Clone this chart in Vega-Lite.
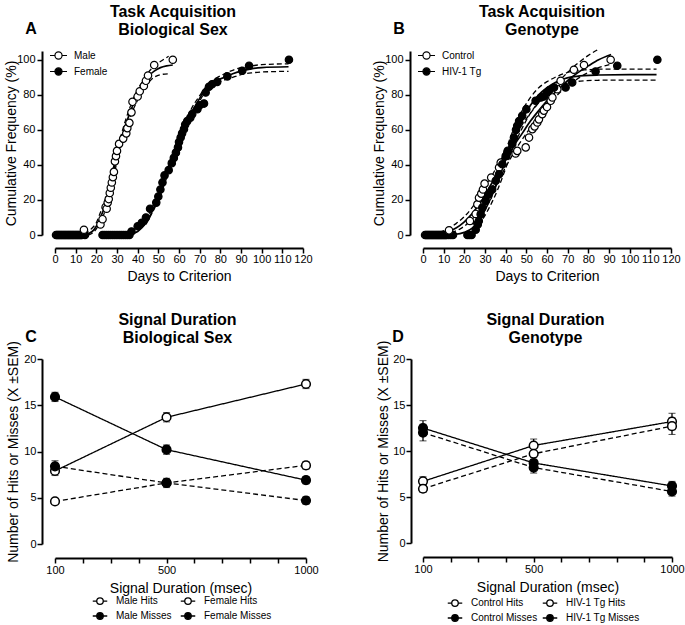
{
  "$schema": "https://vega.github.io/schema/vega-lite/v6.json",
  "background": "white",
  "padding": {"left": 4, "top": 3, "right": 0, "bottom": 0},
  "columns": 2,
  "spacing": {"row": 124, "column": 117},
  "bounds": "flush",
  "resolve": {"scale": {"fill": "independent", "strokeDash": "independent"}, "legend": {"fill": "independent", "strokeDash": "independent"}},
  "config": {
    "font": "Liberation Sans",
    "view": {"stroke": null},
    "axis": {"grid": false, "domainColor": "black", "domainWidth": 2, "tickColor": "black", "tickWidth": 1.5, "tickSize": 5, "labelFont": "Liberation Sans", "labelFontSize": 11, "labelColor": "black", "titleFont": "Liberation Sans", "titleFontSize": 14, "titleFontWeight": "normal", "titleColor": "black", "labelFlush": false, "labelOverlap": false, "labelBound": false},
    "title": {"font": "Liberation Sans", "fontSize": 16, "fontWeight": "bold", "color": "black", "anchor": "middle", "frame": "group", "lineHeight": 18},
    "legend": {"labelFont": "Liberation Sans", "labelFontSize": 10, "labelColor": "black"}
  },
  "datasets": {
    "a_pts": [
      {"day":0.5,"freq":0,"sex":"Male"},{"day":1.5,"freq":0,"sex":"Male"},{"day":2.5,"freq":0,"sex":"Male"},{"day":3.5,"freq":0,"sex":"Male"},{"day":4.5,"freq":0,"sex":"Male"},{"day":5.5,"freq":0,"sex":"Male"},{"day":6.5,"freq":0,"sex":"Male"},{"day":7.5,"freq":0,"sex":"Male"},{"day":8.5,"freq":0,"sex":"Male"},{"day":9.5,"freq":0,"sex":"Male"},{"day":10.5,"freq":0,"sex":"Male"},{"day":11.5,"freq":0,"sex":"Male"},{"day":12.5,"freq":0,"sex":"Male"},
      {"day":1,"freq":0,"sex":"Female"},{"day":2,"freq":0,"sex":"Female"},{"day":3,"freq":0,"sex":"Female"},{"day":4,"freq":0,"sex":"Female"},{"day":5,"freq":0,"sex":"Female"},{"day":6,"freq":0,"sex":"Female"},{"day":7,"freq":0,"sex":"Female"},{"day":8,"freq":0,"sex":"Female"},{"day":9,"freq":0,"sex":"Female"},{"day":10,"freq":0,"sex":"Female"},{"day":11,"freq":0,"sex":"Female"},{"day":12,"freq":0,"sex":"Female"},{"day":13,"freq":0,"sex":"Female"},{"day":14.5,"freq":0,"sex":"Female"},
      {"day":14,"freq":3,"sex":"Male"},{"day":22,"freq":6,"sex":"Male"},{"day":23,"freq":9,"sex":"Male"},{"day":24.5,"freq":16,"sex":"Male"},{"day":25,"freq":15,"sex":"Male"},{"day":25.5,"freq":18.5,"sex":"Male"},{"day":26,"freq":20.5,"sex":"Male"},{"day":26.5,"freq":24,"sex":"Male"},{"day":27,"freq":27,"sex":"Male"},{"day":27.5,"freq":30,"sex":"Male"},{"day":28,"freq":33,"sex":"Male"},{"day":28.5,"freq":36,"sex":"Male"},{"day":29,"freq":42,"sex":"Male"},{"day":29.5,"freq":45,"sex":"Male"},{"day":30,"freq":48,"sex":"Male"},{"day":31,"freq":52,"sex":"Male"},{"day":33,"freq":55,"sex":"Male"},{"day":34.5,"freq":58,"sex":"Male"},{"day":35,"freq":61,"sex":"Male"},{"day":36,"freq":64,"sex":"Male"},{"day":37,"freq":70,"sex":"Male"},{"day":37.5,"freq":76,"sex":"Male"},{"day":40,"freq":79,"sex":"Male"},{"day":41,"freq":82,"sex":"Male"},{"day":43,"freq":85,"sex":"Male"},{"day":44,"freq":88,"sex":"Male"},{"day":45,"freq":91,"sex":"Male"},{"day":48,"freq":97,"sex":"Male"},{"day":57,"freq":100,"sex":"Male"},
      {"day":23,"freq":0,"sex":"Female"},{"day":24,"freq":0,"sex":"Female"},{"day":25,"freq":0,"sex":"Female"},{"day":26,"freq":0,"sex":"Female"},{"day":27,"freq":0,"sex":"Female"},{"day":28,"freq":0,"sex":"Female"},{"day":29,"freq":0,"sex":"Female"},{"day":30,"freq":0,"sex":"Female"},{"day":31,"freq":0,"sex":"Female"},{"day":32,"freq":0,"sex":"Female"},{"day":33,"freq":0,"sex":"Female"},{"day":34,"freq":0,"sex":"Female"},{"day":35,"freq":0,"sex":"Female"},{"day":36,"freq":0,"sex":"Female"},
      {"day":37,"freq":2,"sex":"Female"},{"day":40,"freq":5,"sex":"Female"},{"day":42,"freq":7,"sex":"Female"},{"day":44,"freq":10,"sex":"Female"},{"day":46,"freq":15,"sex":"Female"},{"day":49,"freq":18.5,"sex":"Female"},{"day":50,"freq":22,"sex":"Female"},{"day":51,"freq":26,"sex":"Female"},{"day":52,"freq":30,"sex":"Female"},{"day":53,"freq":34,"sex":"Female"},{"day":55,"freq":37,"sex":"Female"},{"day":56.5,"freq":41,"sex":"Female"},{"day":57.5,"freq":44,"sex":"Female"},{"day":58.5,"freq":47,"sex":"Female"},{"day":59.5,"freq":50,"sex":"Female"},{"day":60,"freq":53,"sex":"Female"},{"day":60.8,"freq":55.6,"sex":"Female"},{"day":61.5,"freq":58,"sex":"Female"},{"day":62.4,"freq":60.4,"sex":"Female"},{"day":63,"freq":63,"sex":"Female"},{"day":64,"freq":65,"sex":"Female"},{"day":65.5,"freq":67,"sex":"Female"},{"day":66.4,"freq":69,"sex":"Female"},{"day":68.9,"freq":71.8,"sex":"Female"},{"day":70,"freq":74,"sex":"Female"},{"day":72.1,"freq":75,"sex":"Female"},{"day":72.9,"freq":81.3,"sex":"Female"},{"day":74.5,"freq":84.6,"sex":"Female"},{"day":76,"freq":86,"sex":"Female"},{"day":78.5,"freq":87.4,"sex":"Female"},{"day":83.4,"freq":90.5,"sex":"Female"},{"day":90.6,"freq":93.7,"sex":"Female"},{"day":93.9,"freq":96.6,"sex":"Female"},{"day":113.2,"freq":100,"sex":"Female"}
    ],
    "a_fit": [
      {"day":15,"freq":0.5,"curve":"Male"},{"day":18,"freq":2,"curve":"Male"},{"day":20,"freq":5,"curve":"Male"},{"day":22,"freq":10,"curve":"Male"},{"day":24,"freq":16,"curve":"Male"},{"day":26,"freq":24,"curve":"Male"},{"day":28,"freq":34,"curve":"Male"},{"day":30,"freq":45,"curve":"Male"},{"day":32,"freq":54,"curve":"Male"},{"day":34,"freq":62,"curve":"Male"},{"day":36,"freq":69,"curve":"Male"},{"day":38,"freq":75,"curve":"Male"},{"day":40,"freq":80,"curve":"Male"},{"day":42,"freq":85,"curve":"Male"},{"day":44,"freq":88.5,"curve":"Male"},{"day":46,"freq":91.5,"curve":"Male"},{"day":48,"freq":93.5,"curve":"Male"},{"day":51,"freq":95.5,"curve":"Male"},{"day":54,"freq":96.5,"curve":"Male"},{"day":57,"freq":97,"curve":"Male"},
      {"day":36,"freq":0.3,"curve":"Female"},{"day":40,"freq":2,"curve":"Female"},{"day":44,"freq":7,"curve":"Female"},{"day":48,"freq":16,"curve":"Female"},{"day":50,"freq":22,"curve":"Female"},{"day":52,"freq":29,"curve":"Female"},{"day":54,"freq":35,"curve":"Female"},{"day":56,"freq":41,"curve":"Female"},{"day":58,"freq":47,"curve":"Female"},{"day":60,"freq":53,"curve":"Female"},{"day":62,"freq":59,"curve":"Female"},{"day":64,"freq":65,"curve":"Female"},{"day":66,"freq":70,"curve":"Female"},{"day":68,"freq":74,"curve":"Female"},{"day":70,"freq":78,"curve":"Female"},{"day":72,"freq":82,"curve":"Female"},{"day":75,"freq":85.5,"curve":"Female"},{"day":78,"freq":88,"curve":"Female"},{"day":82,"freq":90,"curve":"Female"},{"day":86,"freq":92,"curve":"Female"},{"day":90,"freq":93.5,"curve":"Female"},{"day":95,"freq":94.8,"curve":"Female"},{"day":100,"freq":95.5,"curve":"Female"},{"day":113,"freq":96,"curve":"Female"}
    ],
    "a_band": [
      {"day":14,"freq":1,"curve":"Male upper"},{"day":18,"freq":4,"curve":"Male upper"},{"day":20,"freq":7,"curve":"Male upper"},{"day":22,"freq":13,"curve":"Male upper"},{"day":24,"freq":19,"curve":"Male upper"},{"day":26,"freq":27,"curve":"Male upper"},{"day":28,"freq":37,"curve":"Male upper"},{"day":30,"freq":48,"curve":"Male upper"},{"day":32,"freq":57,"curve":"Male upper"},{"day":34,"freq":65,"curve":"Male upper"},{"day":36,"freq":72,"curve":"Male upper"},{"day":38,"freq":78,"curve":"Male upper"},{"day":40,"freq":83,"curve":"Male upper"},{"day":42,"freq":87,"curve":"Male upper"},{"day":44,"freq":91,"curve":"Male upper"},{"day":46,"freq":94,"curve":"Male upper"},{"day":48,"freq":96.5,"curve":"Male upper"},{"day":51,"freq":99,"curve":"Male upper"},{"day":55,"freq":102,"curve":"Male upper"},
      {"day":16,"freq":0,"curve":"Male lower"},{"day":18,"freq":1,"curve":"Male lower"},{"day":20,"freq":3.5,"curve":"Male lower"},{"day":22,"freq":7.5,"curve":"Male lower"},{"day":24,"freq":13,"curve":"Male lower"},{"day":26,"freq":21,"curve":"Male lower"},{"day":28,"freq":31,"curve":"Male lower"},{"day":30,"freq":42,"curve":"Male lower"},{"day":32,"freq":51,"curve":"Male lower"},{"day":34,"freq":59,"curve":"Male lower"},{"day":36,"freq":66,"curve":"Male lower"},{"day":38,"freq":72,"curve":"Male lower"},{"day":40,"freq":77,"curve":"Male lower"},{"day":42,"freq":82,"curve":"Male lower"},{"day":44,"freq":85.5,"curve":"Male lower"},{"day":46,"freq":88,"curve":"Male lower"},{"day":48,"freq":90,"curve":"Male lower"},{"day":51,"freq":91.5,"curve":"Male lower"},{"day":55,"freq":92,"curve":"Male lower"},
      {"day":44,"freq":8,"curve":"Female upper"},{"day":50,"freq":24,"curve":"Female upper"},{"day":56,"freq":43,"curve":"Female upper"},{"day":62,"freq":61,"curve":"Female upper"},{"day":66,"freq":72,"curve":"Female upper"},{"day":70,"freq":79.5,"curve":"Female upper"},{"day":72,"freq":83,"curve":"Female upper"},{"day":75,"freq":87,"curve":"Female upper"},{"day":78,"freq":89.5,"curve":"Female upper"},{"day":82,"freq":92,"curve":"Female upper"},{"day":86,"freq":94,"curve":"Female upper"},{"day":90,"freq":95.5,"curve":"Female upper"},{"day":95,"freq":96.5,"curve":"Female upper"},{"day":100,"freq":97.2,"curve":"Female upper"},{"day":113,"freq":97.7,"curve":"Female upper"},
      {"day":44,"freq":6,"curve":"Female lower"},{"day":50,"freq":20,"curve":"Female lower"},{"day":56,"freq":39,"curve":"Female lower"},{"day":62,"freq":57,"curve":"Female lower"},{"day":66,"freq":68,"curve":"Female lower"},{"day":70,"freq":76.5,"curve":"Female lower"},{"day":72,"freq":80.5,"curve":"Female lower"},{"day":75,"freq":84,"curve":"Female lower"},{"day":78,"freq":86.5,"curve":"Female lower"},{"day":82,"freq":88.5,"curve":"Female lower"},{"day":86,"freq":90,"curve":"Female lower"},{"day":90,"freq":91.5,"curve":"Female lower"},{"day":95,"freq":92.5,"curve":"Female lower"},{"day":100,"freq":93,"curve":"Female lower"},{"day":113,"freq":93.4,"curve":"Female lower"}
    ],
    "b_pts": [
      {"day":1,"freq":0,"geno":"Control"},{"day":2,"freq":0,"geno":"Control"},{"day":3,"freq":0,"geno":"Control"},{"day":4,"freq":0,"geno":"Control"},{"day":5,"freq":0,"geno":"Control"},{"day":6,"freq":0,"geno":"Control"},{"day":7,"freq":0,"geno":"Control"},{"day":8,"freq":0,"geno":"Control"},{"day":9,"freq":0,"geno":"Control"},{"day":10,"freq":0,"geno":"Control"},{"day":11,"freq":0,"geno":"Control"},
      {"day":1.5,"freq":0,"geno":"HIV-1 Tg"},{"day":2.5,"freq":0,"geno":"HIV-1 Tg"},{"day":3.5,"freq":0,"geno":"HIV-1 Tg"},{"day":4.5,"freq":0,"geno":"HIV-1 Tg"},{"day":5.5,"freq":0,"geno":"HIV-1 Tg"},{"day":6.5,"freq":0,"geno":"HIV-1 Tg"},{"day":7.5,"freq":0,"geno":"HIV-1 Tg"},{"day":8.5,"freq":0,"geno":"HIV-1 Tg"},{"day":9.5,"freq":0,"geno":"HIV-1 Tg"},{"day":10.5,"freq":0,"geno":"HIV-1 Tg"},{"day":11.5,"freq":0,"geno":"HIV-1 Tg"},{"day":12.5,"freq":0,"geno":"HIV-1 Tg"},{"day":13.5,"freq":0,"geno":"HIV-1 Tg"},{"day":14.5,"freq":0,"geno":"HIV-1 Tg"},{"day":21.5,"freq":0,"geno":"HIV-1 Tg"},{"day":22.5,"freq":0,"geno":"HIV-1 Tg"},{"day":23.5,"freq":0,"geno":"HIV-1 Tg"},
      {"day":12.6,"freq":2.7,"geno":"Control"},{"day":22.7,"freq":8,"geno":"Control"},{"day":25.5,"freq":12,"geno":"Control"},{"day":26.3,"freq":17.5,"geno":"Control"},{"day":27.1,"freq":21.3,"geno":"Control"},{"day":28.2,"freq":23.6,"geno":"Control"},{"day":29,"freq":26,"geno":"Control"},{"day":29.8,"freq":29.3,"geno":"Control"},{"day":31.5,"freq":22,"geno":"Control"},{"day":33,"freq":32.8,"geno":"Control"},{"day":36.8,"freq":38.5,"geno":"Control"},{"day":37.6,"freq":41.3,"geno":"Control"},{"day":40.8,"freq":47,"geno":"Control"},{"day":44.8,"freq":46.5,"geno":"Control"},{"day":45.6,"freq":48,"geno":"Control"},{"day":49.7,"freq":50,"geno":"Control"},{"day":51.3,"freq":55.6,"geno":"Control"},{"day":52.9,"freq":60.4,"geno":"Control"},{"day":54,"freq":62,"geno":"Control"},{"day":55.3,"freq":64.2,"geno":"Control"},{"day":56.1,"freq":66,"geno":"Control"},{"day":57.7,"freq":69,"geno":"Control"},{"day":58.5,"freq":71,"geno":"Control"},{"day":60,"freq":73,"geno":"Control"},{"day":61.8,"freq":76.6,"geno":"Control"},{"day":62.6,"freq":78.5,"geno":"Control"},{"day":65,"freq":83.2,"geno":"Control"},{"day":66.6,"freq":88,"geno":"Control"},{"day":73,"freq":94.3,"geno":"Control"},{"day":77.9,"freq":97,"geno":"Control"},{"day":90.8,"freq":100,"geno":"Control"},
      {"day":25.5,"freq":3,"geno":"HIV-1 Tg"},{"day":26.5,"freq":6,"geno":"HIV-1 Tg"},{"day":27,"freq":8,"geno":"HIV-1 Tg"},{"day":27.9,"freq":11.8,"geno":"HIV-1 Tg"},{"day":28.7,"freq":15.6,"geno":"HIV-1 Tg"},{"day":30.3,"freq":19.4,"geno":"HIV-1 Tg"},{"day":31.6,"freq":23,"geno":"HIV-1 Tg"},{"day":33.5,"freq":26,"geno":"HIV-1 Tg"},{"day":35.2,"freq":31,"geno":"HIV-1 Tg"},{"day":36.8,"freq":34.7,"geno":"HIV-1 Tg"},{"day":38.4,"freq":40.4,"geno":"HIV-1 Tg"},{"day":40,"freq":45,"geno":"HIV-1 Tg"},{"day":41,"freq":48,"geno":"HIV-1 Tg"},{"day":43.2,"freq":52,"geno":"HIV-1 Tg"},{"day":44,"freq":55.6,"geno":"HIV-1 Tg"},{"day":45,"freq":60,"geno":"HIV-1 Tg"},{"day":45.6,"freq":62.3,"geno":"HIV-1 Tg"},{"day":46.5,"freq":65,"geno":"HIV-1 Tg"},{"day":48,"freq":68,"geno":"HIV-1 Tg"},{"day":50,"freq":71.8,"geno":"HIV-1 Tg"},{"day":54.5,"freq":76.6,"geno":"HIV-1 Tg"},{"day":57,"freq":78.5,"geno":"HIV-1 Tg"},{"day":58.5,"freq":79,"geno":"HIV-1 Tg"},{"day":60,"freq":81.3,"geno":"HIV-1 Tg"},{"day":61,"freq":82.5,"geno":"HIV-1 Tg"},{"day":63.4,"freq":84.2,"geno":"HIV-1 Tg"},{"day":69,"freq":84.2,"geno":"HIV-1 Tg"},{"day":72.2,"freq":87,"geno":"HIV-1 Tg"},{"day":83.5,"freq":93.3,"geno":"HIV-1 Tg"},{"day":94,"freq":96.6,"geno":"HIV-1 Tg"},{"day":113.4,"freq":100,"geno":"HIV-1 Tg"}
    ],
    "b_fit": [
      {"day":8,"freq":0.5,"curve":"Control"},{"day":12,"freq":2,"curve":"Control"},{"day":16,"freq":4,"curve":"Control"},{"day":20,"freq":7.5,"curve":"Control"},{"day":24,"freq":12.5,"curve":"Control"},{"day":28,"freq":19,"curve":"Control"},{"day":32,"freq":27,"curve":"Control"},{"day":36,"freq":35,"curve":"Control"},{"day":40,"freq":43,"curve":"Control"},{"day":44,"freq":51,"curve":"Control"},{"day":48,"freq":58,"curve":"Control"},{"day":52,"freq":65,"curve":"Control"},{"day":56,"freq":71,"curve":"Control"},{"day":60,"freq":76.5,"curve":"Control"},{"day":64,"freq":81.5,"curve":"Control"},{"day":68,"freq":86,"curve":"Control"},{"day":72,"freq":90,"curve":"Control"},{"day":76,"freq":93.5,"curve":"Control"},{"day":80,"freq":96.5,"curve":"Control"},{"day":85,"freq":100,"curve":"Control"},{"day":91,"freq":103,"curve":"Control"},
      {"day":15,"freq":0.3,"curve":"Tg"},{"day":20,"freq":1.5,"curve":"Tg"},{"day":24,"freq":4,"curve":"Tg"},{"day":28,"freq":10,"curve":"Tg"},{"day":32,"freq":19,"curve":"Tg"},{"day":36,"freq":30,"curve":"Tg"},{"day":40,"freq":43,"curve":"Tg"},{"day":44,"freq":56,"curve":"Tg"},{"day":48,"freq":66,"curve":"Tg"},{"day":52,"freq":74,"curve":"Tg"},{"day":56,"freq":80,"curve":"Tg"},{"day":60,"freq":84,"curve":"Tg"},{"day":64,"freq":87,"curve":"Tg"},{"day":68,"freq":89,"curve":"Tg"},{"day":72,"freq":90.2,"curve":"Tg"},{"day":78,"freq":91,"curve":"Tg"},{"day":85,"freq":91.3,"curve":"Tg"},{"day":100,"freq":91.5,"curve":"Tg"},{"day":113,"freq":91.5,"curve":"Tg"}
    ],
    "b_band": [
      {"day":8,"freq":1.5,"curve":"Control upper"},{"day":12,"freq":3.5,"curve":"Control upper"},{"day":16,"freq":6.5,"curve":"Control upper"},{"day":20,"freq":10.5,"curve":"Control upper"},{"day":24,"freq":16,"curve":"Control upper"},{"day":28,"freq":23,"curve":"Control upper"},{"day":32,"freq":31,"curve":"Control upper"},{"day":36,"freq":39.5,"curve":"Control upper"},{"day":40,"freq":47.5,"curve":"Control upper"},{"day":44,"freq":55.5,"curve":"Control upper"},{"day":48,"freq":63,"curve":"Control upper"},{"day":52,"freq":69.5,"curve":"Control upper"},{"day":56,"freq":75.5,"curve":"Control upper"},{"day":60,"freq":81,"curve":"Control upper"},{"day":64,"freq":86,"curve":"Control upper"},{"day":68,"freq":90.5,"curve":"Control upper"},{"day":72,"freq":95,"curve":"Control upper"},{"day":76,"freq":99,"curve":"Control upper"},{"day":80,"freq":102.5,"curve":"Control upper"},{"day":85,"freq":106,"curve":"Control upper"},
      {"day":10,"freq":0,"curve":"Control lower"},{"day":14,"freq":1.5,"curve":"Control lower"},{"day":18,"freq":3.5,"curve":"Control lower"},{"day":22,"freq":7,"curve":"Control lower"},{"day":26,"freq":12,"curve":"Control lower"},{"day":30,"freq":18.5,"curve":"Control lower"},{"day":34,"freq":26,"curve":"Control lower"},{"day":38,"freq":34.5,"curve":"Control lower"},{"day":42,"freq":43,"curve":"Control lower"},{"day":46,"freq":51,"curve":"Control lower"},{"day":50,"freq":58,"curve":"Control lower"},{"day":54,"freq":64.5,"curve":"Control lower"},{"day":58,"freq":70.5,"curve":"Control lower"},{"day":62,"freq":76,"curve":"Control lower"},{"day":66,"freq":81,"curve":"Control lower"},{"day":70,"freq":85,"curve":"Control lower"},{"day":74,"freq":88.5,"curve":"Control lower"},{"day":78,"freq":91.5,"curve":"Control lower"},{"day":84,"freq":95,"curve":"Control lower"},{"day":91,"freq":97.5,"curve":"Control lower"},
      {"day":24,"freq":6,"curve":"Tg upper"},{"day":28,"freq":13,"curve":"Tg upper"},{"day":32,"freq":23,"curve":"Tg upper"},{"day":36,"freq":34.5,"curve":"Tg upper"},{"day":40,"freq":48,"curve":"Tg upper"},{"day":44,"freq":61,"curve":"Tg upper"},{"day":48,"freq":71,"curve":"Tg upper"},{"day":52,"freq":78.5,"curve":"Tg upper"},{"day":56,"freq":84,"curve":"Tg upper"},{"day":60,"freq":87.5,"curve":"Tg upper"},{"day":64,"freq":90,"curve":"Tg upper"},{"day":68,"freq":92,"curve":"Tg upper"},{"day":72,"freq":93.3,"curve":"Tg upper"},{"day":78,"freq":94.2,"curve":"Tg upper"},{"day":85,"freq":94.6,"curve":"Tg upper"},{"day":100,"freq":94.7,"curve":"Tg upper"},{"day":113,"freq":94.7,"curve":"Tg upper"},
      {"day":24,"freq":2.5,"curve":"Tg lower"},{"day":28,"freq":7.5,"curve":"Tg lower"},{"day":32,"freq":15.5,"curve":"Tg lower"},{"day":36,"freq":25.5,"curve":"Tg lower"},{"day":40,"freq":38,"curve":"Tg lower"},{"day":44,"freq":51,"curve":"Tg lower"},{"day":48,"freq":61,"curve":"Tg lower"},{"day":52,"freq":69.5,"curve":"Tg lower"},{"day":56,"freq":76,"curve":"Tg lower"},{"day":60,"freq":80.5,"curve":"Tg lower"},{"day":64,"freq":84,"curve":"Tg lower"},{"day":68,"freq":86,"curve":"Tg lower"},{"day":72,"freq":87.2,"curve":"Tg lower"},{"day":78,"freq":88,"curve":"Tg lower"},{"day":85,"freq":88.3,"curve":"Tg lower"},{"day":100,"freq":88.4,"curve":"Tg lower"},{"day":113,"freq":88.4,"curve":"Tg lower"}
    ],
    "c_data": [
      {"duration":100,"count":7.9,"sem":0.5,"series":"Male Hits","group":"Male"},
      {"duration":500,"count":13.7,"sem":0.5,"series":"Male Hits","group":"Male"},
      {"duration":1000,"count":17.3,"sem":0.5,"series":"Male Hits","group":"Male"},
      {"duration":100,"count":15.9,"sem":0.5,"series":"Male Misses","group":"Male"},
      {"duration":500,"count":10.2,"sem":0.5,"series":"Male Misses","group":"Male"},
      {"duration":1000,"count":6.9,"sem":0.4,"series":"Male Misses","group":"Male"},
      {"duration":100,"count":4.6,"sem":0.2,"series":"Female Hits","group":"Female"},
      {"duration":500,"count":6.6,"sem":0.3,"series":"Female Hits","group":"Female"},
      {"duration":1000,"count":8.5,"sem":0.4,"series":"Female Hits","group":"Female"},
      {"duration":100,"count":8.4,"sem":0.6,"series":"Female Misses","group":"Female"},
      {"duration":500,"count":6.6,"sem":0.5,"series":"Female Misses","group":"Female"},
      {"duration":1000,"count":4.7,"sem":0.4,"series":"Female Misses","group":"Female"}
    ],
    "d_data": [
      {"duration":100,"count":6.7,"sem":0.5,"series":"Control Hits","group":"Control"},
      {"duration":500,"count":10.6,"sem":0.7,"series":"Control Hits","group":"Control"},
      {"duration":1000,"count":13.2,"sem":0.9,"series":"Control Hits","group":"Control"},
      {"duration":100,"count":5.9,"sem":0.4,"series":"HIV-1 Tg Hits","group":"HIV-1 Tg"},
      {"duration":500,"count":9.7,"sem":0.6,"series":"HIV-1 Tg Hits","group":"HIV-1 Tg"},
      {"duration":1000,"count":12.7,"sem":0.9,"series":"HIV-1 Tg Hits","group":"HIV-1 Tg"},
      {"duration":100,"count":12.5,"sem":0.8,"series":"Control Misses","group":"Control"},
      {"duration":500,"count":8.7,"sem":0.6,"series":"Control Misses","group":"Control"},
      {"duration":1000,"count":6.2,"sem":0.5,"series":"Control Misses","group":"Control"},
      {"duration":100,"count":12.0,"sem":0.9,"series":"HIV-1 Tg Misses","group":"HIV-1 Tg"},
      {"duration":500,"count":8.2,"sem":0.6,"series":"HIV-1 Tg Misses","group":"HIV-1 Tg"},
      {"duration":1000,"count":5.6,"sem":0.5,"series":"HIV-1 Tg Misses","group":"HIV-1 Tg"}
    ]
  },
  "concat": [
    {
      "width": 248, "height": 184,
      "title": {"text": ["Task  Acquisition", "Biological Sex"], "dx": -6, "offset": -17},
      "layer": [
        {"data": {"name": "a_band"}, "mark": {"type": "line", "interpolate": "monotone", "strokeDash": [5,3], "strokeWidth": 1.3, "color": "black"},
         "encoding": {
           "x": {"field": "day", "type": "quantitative", "scale": {"domain": [0, 120], "nice": false, "zero": false}, "axis": {"title": "Days to Criterion", "values": [0,10,20,30,40,50,60,70,80,90,100,110,120], "offset": 13, "labelPadding": 0, "titlePadding": 5, "labelOverlap": false, "labelFlush": false, "labelBound": false}},
           "y": {"field": "freq", "type": "quantitative", "scale": {"domain": [0, 105], "nice": false}, "axis": {"title": "Cumulative Frequency (%)", "values": [0,20,40,60,80,100], "offset": 13, "labelPadding": 2, "titlePadding": -2, "labelOverlap": false, "labelFlush": false, "labelBound": false}},
           "detail": {"field": "curve"}}},
        {"data": {"name": "a_fit"}, "mark": {"type": "line", "interpolate": "monotone", "strokeWidth": 1.7, "color": "black"},
         "encoding": {
           "x": {"field": "day", "type": "quantitative", "axis": {"title": "Days to Criterion", "values": [0,10,20,30,40,50,60,70,80,90,100,110,120], "offset": 13, "labelPadding": 0, "titlePadding": 5, "labelOverlap": false, "labelFlush": false, "labelBound": false}},
           "y": {"field": "freq", "type": "quantitative", "axis": {"title": "Cumulative Frequency (%)", "values": [0,20,40,60,80,100], "offset": 13, "labelPadding": 2, "titlePadding": -2, "labelOverlap": false, "labelFlush": false, "labelBound": false}},
           "detail": {"field": "curve"}}},
        {"data": {"name": "a_pts"}, "mark": {"type": "point", "shape": "circle", "filled": true, "size": 55, "stroke": "black", "strokeWidth": 1.2, "opacity": 1},
         "encoding": {
           "x": {"field": "day", "type": "quantitative", "axis": {"title": "Days to Criterion", "values": [0,10,20,30,40,50,60,70,80,90,100,110,120], "offset": 13, "labelPadding": 0, "titlePadding": 5, "labelOverlap": false, "labelFlush": false, "labelBound": false}},
           "y": {"field": "freq", "type": "quantitative", "axis": {"title": "Cumulative Frequency (%)", "values": [0,20,40,60,80,100], "offset": 13, "labelPadding": 2, "titlePadding": -2, "labelOverlap": false, "labelFlush": false, "labelBound": false}},
           "fill": {"field": "sex", "type": "nominal", "scale": {"domain": ["Male", "Female"], "range": ["white", "black"]},
           "legend": {"title": null, "orient": "none", "legendX": -6, "legendY": -5, "symbolType": "M-1,0L-0.42,0M0.42,0L1,0M-0.42,0C-0.42,-0.232,-0.232,-0.42,0,-0.42C0.232,-0.42,0.42,-0.232,0.42,0C0.42,0.232,0.232,0.42,0,0.42C-0.232,0.42,-0.42,0.232,-0.42,0Z", "symbolSize": 289, "symbolStrokeColor": "black", "symbolStrokeWidth": 1.2, "labelFontSize": 10, "labelOffset": 6, "rowPadding": -2}}}},
        {"data": {"values": [{"panel": "A"}]}, "mark": {"type": "text", "font": "Liberation Sans", "fontSize": 16, "fontWeight": "bold", "baseline": "middle", "align": "center", "color": "black"},
         "encoding": {
           "x": {"datum": -11.6, "type": "quantitative", "axis": {"title": "Days to Criterion", "values": [0,10,20,30,40,50,60,70,80,90,100,110,120], "offset": 13, "labelPadding": 0, "titlePadding": 5, "labelOverlap": false, "labelFlush": false, "labelBound": false}},
           "y": {"datum": 117.7, "type": "quantitative", "axis": {"title": "Cumulative Frequency (%)", "values": [0,20,40,60,80,100], "offset": 13, "labelPadding": 2, "titlePadding": -2, "labelOverlap": false, "labelFlush": false, "labelBound": false}},
           "text": {"field": "panel", "type": "nominal"}}}
      ]
    },
    {
      "width": 248, "height": 184,
      "title": {"text": ["Task Acquisition", "Genotype"], "dx": -5, "offset": -17},
      "layer": [
        {"data": {"name": "b_band"}, "mark": {"type": "line", "interpolate": "monotone", "strokeDash": [5,3], "strokeWidth": 1.3, "color": "black"},
         "encoding": {
           "x": {"field": "day", "type": "quantitative", "scale": {"domain": [0, 120], "nice": false, "zero": false}, "axis": {"title": "Days to Criterion", "values": [0,10,20,30,40,50,60,70,80,90,100,110,120], "offset": 13, "labelPadding": 0, "titlePadding": 5, "labelOverlap": false, "labelFlush": false, "labelBound": false}},
           "y": {"field": "freq", "type": "quantitative", "scale": {"domain": [0, 105], "nice": false}, "axis": {"title": "Cumulative Frequency (%)", "values": [0,20,40,60,80,100], "offset": 13, "labelPadding": 2, "titlePadding": -2, "labelOverlap": false, "labelFlush": false, "labelBound": false}},
           "detail": {"field": "curve"}}},
        {"data": {"name": "b_fit"}, "mark": {"type": "line", "interpolate": "monotone", "strokeWidth": 1.7, "color": "black"},
         "encoding": {
           "x": {"field": "day", "type": "quantitative", "axis": {"title": "Days to Criterion", "values": [0,10,20,30,40,50,60,70,80,90,100,110,120], "offset": 13, "labelPadding": 0, "titlePadding": 5, "labelOverlap": false, "labelFlush": false, "labelBound": false}},
           "y": {"field": "freq", "type": "quantitative", "axis": {"title": "Cumulative Frequency (%)", "values": [0,20,40,60,80,100], "offset": 13, "labelPadding": 2, "titlePadding": -2, "labelOverlap": false, "labelFlush": false, "labelBound": false}},
           "detail": {"field": "curve"}}},
        {"data": {"name": "b_pts"}, "mark": {"type": "point", "shape": "circle", "filled": true, "size": 55, "stroke": "black", "strokeWidth": 1.2, "opacity": 1},
         "encoding": {
           "x": {"field": "day", "type": "quantitative", "axis": {"title": "Days to Criterion", "values": [0,10,20,30,40,50,60,70,80,90,100,110,120], "offset": 13, "labelPadding": 0, "titlePadding": 5, "labelOverlap": false, "labelFlush": false, "labelBound": false}},
           "y": {"field": "freq", "type": "quantitative", "axis": {"title": "Cumulative Frequency (%)", "values": [0,20,40,60,80,100], "offset": 13, "labelPadding": 2, "titlePadding": -2, "labelOverlap": false, "labelFlush": false, "labelBound": false}},
           "fill": {"field": "geno", "type": "nominal", "scale": {"domain": ["Control", "HIV-1 Tg"], "range": ["white", "black"]},
           "legend": {"title": null, "orient": "none", "legendX": -6, "legendY": -5, "symbolType": "M-1,0L-0.42,0M0.42,0L1,0M-0.42,0C-0.42,-0.232,-0.232,-0.42,0,-0.42C0.232,-0.42,0.42,-0.232,0.42,0C0.42,0.232,0.232,0.42,0,0.42C-0.232,0.42,-0.42,0.232,-0.42,0Z", "symbolSize": 289, "symbolStrokeColor": "black", "symbolStrokeWidth": 1.2, "labelFontSize": 10, "labelOffset": 6, "rowPadding": -2}}}},
        {"data": {"values": [{"panel": "B"}]}, "mark": {"type": "text", "font": "Liberation Sans", "fontSize": 16, "fontWeight": "bold", "baseline": "middle", "align": "center", "color": "black"},
         "encoding": {
           "x": {"datum": -11.6, "type": "quantitative", "axis": {"title": "Days to Criterion", "values": [0,10,20,30,40,50,60,70,80,90,100,110,120], "offset": 13, "labelPadding": 0, "titlePadding": 5, "labelOverlap": false, "labelFlush": false, "labelBound": false}},
           "y": {"datum": 117.7, "type": "quantitative", "axis": {"title": "Cumulative Frequency (%)", "values": [0,20,40,60,80,100], "offset": 13, "labelPadding": 2, "titlePadding": -2, "labelOverlap": false, "labelFlush": false, "labelBound": false}},
           "text": {"field": "panel", "type": "nominal"}}}
      ]
    },
    {
      "width": 251, "height": 185,
      "title": {"text": ["Signal Duration", "Biological Sex"], "dx": -3, "offset": -17},
      "layer": [
        {"data": {"name": "c_data"}, "mark": {"type": "line", "color": "black", "strokeWidth": 1.3},
         "encoding": {
           "x": {"field": "duration", "type": "quantitative", "scale": {"domain": [100, 1000], "nice": false, "zero": false}, "axis": {"title": "Signal Duration (msec)", "values": [100,200,300,400,500,600,700,800,900,1000], "labelExpr": "datum.value == 100 || datum.value == 500 || datum.value == 1000 ? datum.label : ''", "format": "d", "offset": 14, "labelPadding": 1, "titlePadding": 6, "labelOverlap": false, "labelFlush": false, "labelBound": false}},
           "y": {"field": "count", "type": "quantitative", "scale": {"domain": [0, 20], "nice": false}, "axis": {"title": "Number of Hits or Misses (X ±SEM)", "values": [0,5,10,15,20], "offset": 13, "labelPadding": 1, "titlePadding": 3, "labelOverlap": false, "labelFlush": false, "labelBound": false}},
           "detail": {"field": "series"},
           "strokeDash": {"field": "group", "type": "nominal", "scale": {"domain": ["Male", "Female"], "range": [[1,0],[5,3]]}, "legend": null}}},
        {"data": {"name": "c_data"}, "mark": {"type": "errorbar", "ticks": {"size": 7, "color": "black", "strokeWidth": 1.3}, "rule": {"color": "black", "strokeWidth": 1.3}},
         "encoding": {
           "x": {"field": "duration", "type": "quantitative", "axis": {"title": "Signal Duration (msec)", "values": [100,200,300,400,500,600,700,800,900,1000], "labelExpr": "datum.value == 100 || datum.value == 500 || datum.value == 1000 ? datum.label : ''", "format": "d", "offset": 14, "labelPadding": 1, "titlePadding": 6, "labelOverlap": false, "labelFlush": false, "labelBound": false}},
           "y": {"field": "count", "type": "quantitative", "axis": {"title": "Number of Hits or Misses (X ±SEM)", "values": [0,5,10,15,20], "offset": 13, "labelPadding": 1, "titlePadding": 3, "labelOverlap": false, "labelFlush": false, "labelBound": false}},
           "yError": {"field": "sem"}}},
        {"data": {"name": "c_data"}, "mark": {"type": "point", "shape": "circle", "filled": true, "size": 75, "stroke": "black", "strokeWidth": 1.5, "opacity": 1},
         "encoding": {
           "x": {"field": "duration", "type": "quantitative", "axis": {"title": "Signal Duration (msec)", "values": [100,200,300,400,500,600,700,800,900,1000], "labelExpr": "datum.value == 100 || datum.value == 500 || datum.value == 1000 ? datum.label : ''", "format": "d", "offset": 14, "labelPadding": 1, "titlePadding": 6, "labelOverlap": false, "labelFlush": false, "labelBound": false}},
           "y": {"field": "count", "type": "quantitative", "axis": {"title": "Number of Hits or Misses (X ±SEM)", "values": [0,5,10,15,20], "offset": 13, "labelPadding": 1, "titlePadding": 3, "labelOverlap": false, "labelFlush": false, "labelBound": false}},
           "fill": {"field": "series", "type": "nominal", "scale": {"domain": ["Male Hits", "Male Misses", "Female Hits", "Female Misses"], "range": ["white", "black", "white", "black"]},
           "legend": {"title": null, "orient": "none", "legendX": 37, "legendY": 234, "columns": 2, "columnPadding": 6, "rowPadding": 1, "symbolType": "M-1,0L-0.45,0M0.45,0L1,0M-0.45,0C-0.45,-0.2485,-0.2485,-0.45,0,-0.45C0.2485,-0.45,0.45,-0.2485,0.45,0C0.45,0.2485,0.2485,0.45,0,0.45C-0.2485,0.45,-0.45,0.2485,-0.45,0Z", "symbolSize": 210, "symbolStrokeColor": "black", "symbolStrokeWidth": 1.3, "labelFontSize": 10, "labelOffset": 8,
             "encode": {"symbols": {"update": {"shape": {"signal": "indexOf(datum.value, 'Female') >= 0 ? 'M-1,0L-0.62,0M0.6,0L0.8,0M-0.45,0C-0.45,-0.2485,-0.2485,-0.45,0,-0.45C0.2485,-0.45,0.45,-0.2485,0.45,0C0.45,0.2485,0.2485,0.45,0,0.45C-0.2485,0.45,-0.45,0.2485,-0.45,0Z' : 'M-1,0L-0.45,0M0.45,0L1,0M-0.45,0C-0.45,-0.2485,-0.2485,-0.45,0,-0.45C0.2485,-0.45,0.45,-0.2485,0.45,0C0.45,0.2485,0.2485,0.45,0,0.45C-0.2485,0.45,-0.45,0.2485,-0.45,0Z'"}}}}}}}},
        {"data": {"values": [{"panel": "C"}]}, "mark": {"type": "text", "font": "Liberation Sans", "fontSize": 16, "fontWeight": "bold", "baseline": "middle", "align": "center", "color": "black"},
         "encoding": {
           "x": {"datum": 14, "type": "quantitative", "axis": {"title": "Signal Duration (msec)", "values": [100,200,300,400,500,600,700,800,900,1000], "labelExpr": "datum.value == 100 || datum.value == 500 || datum.value == 1000 ? datum.label : ''", "format": "d", "offset": 14, "labelPadding": 1, "titlePadding": 6, "labelOverlap": false, "labelFlush": false, "labelBound": false}},
           "y": {"datum": 22.4, "type": "quantitative", "axis": {"title": "Number of Hits or Misses (X ±SEM)", "values": [0,5,10,15,20], "offset": 13, "labelPadding": 1, "titlePadding": 3, "labelOverlap": false, "labelFlush": false, "labelBound": false}},
           "text": {"field": "panel", "type": "nominal"}}}
      ]
    },
    {
      "width": 249, "height": 184,
      "title": {"text": ["Signal Duration", "Genotype"], "dx": -2, "offset": -17},
      "layer": [
        {"data": {"name": "d_data"}, "mark": {"type": "line", "color": "black", "strokeWidth": 1.3},
         "encoding": {
           "x": {"field": "duration", "type": "quantitative", "scale": {"domain": [100, 1000], "nice": false, "zero": false}, "axis": {"title": "Signal Duration (msec)", "values": [100,200,300,400,500,600,700,800,900,1000], "labelExpr": "datum.value == 100 || datum.value == 500 || datum.value == 1000 ? datum.label : ''", "format": "d", "offset": 14, "labelPadding": 1, "titlePadding": 6, "labelOverlap": false, "labelFlush": false, "labelBound": false}},
           "y": {"field": "count", "type": "quantitative", "scale": {"domain": [0, 20], "nice": false}, "axis": {"title": "Number of Hits or Misses (X ±SEM)", "values": [0,5,10,15,20], "offset": 12, "labelPadding": 1, "titlePadding": 2, "labelOverlap": false, "labelFlush": false, "labelBound": false}},
           "detail": {"field": "series"},
           "strokeDash": {"field": "group", "type": "nominal", "scale": {"domain": ["Control", "HIV-1 Tg"], "range": [[1,0],[5,3]]}, "legend": null}}},
        {"data": {"name": "d_data"}, "mark": {"type": "errorbar", "ticks": {"size": 7, "color": "black", "strokeWidth": 1.3}, "rule": {"color": "black", "strokeWidth": 1.3}},
         "encoding": {
           "x": {"field": "duration", "type": "quantitative", "axis": {"title": "Signal Duration (msec)", "values": [100,200,300,400,500,600,700,800,900,1000], "labelExpr": "datum.value == 100 || datum.value == 500 || datum.value == 1000 ? datum.label : ''", "format": "d", "offset": 14, "labelPadding": 1, "titlePadding": 6, "labelOverlap": false, "labelFlush": false, "labelBound": false}},
           "y": {"field": "count", "type": "quantitative", "axis": {"title": "Number of Hits or Misses (X ±SEM)", "values": [0,5,10,15,20], "offset": 12, "labelPadding": 1, "titlePadding": 2, "labelOverlap": false, "labelFlush": false, "labelBound": false}},
           "yError": {"field": "sem"}}},
        {"data": {"name": "d_data"}, "mark": {"type": "point", "shape": "circle", "filled": true, "size": 75, "stroke": "black", "strokeWidth": 1.5, "opacity": 1},
         "encoding": {
           "x": {"field": "duration", "type": "quantitative", "axis": {"title": "Signal Duration (msec)", "values": [100,200,300,400,500,600,700,800,900,1000], "labelExpr": "datum.value == 100 || datum.value == 500 || datum.value == 1000 ? datum.label : ''", "format": "d", "offset": 14, "labelPadding": 1, "titlePadding": 6, "labelOverlap": false, "labelFlush": false, "labelBound": false}},
           "y": {"field": "count", "type": "quantitative", "axis": {"title": "Number of Hits or Misses (X ±SEM)", "values": [0,5,10,15,20], "offset": 12, "labelPadding": 1, "titlePadding": 2, "labelOverlap": false, "labelFlush": false, "labelBound": false}},
           "fill": {"field": "series", "type": "nominal", "scale": {"domain": ["Control Hits", "Control Misses", "HIV-1 Tg Hits", "HIV-1 Tg Misses"], "range": ["white", "black", "white", "black"]},
           "legend": {"title": null, "orient": "none", "legendX": 24, "legendY": 236, "columns": 2, "columnPadding": 2, "rowPadding": 1, "symbolType": "M-1,0L-0.45,0M0.45,0L1,0M-0.45,0C-0.45,-0.2485,-0.2485,-0.45,0,-0.45C0.2485,-0.45,0.45,-0.2485,0.45,0C0.45,0.2485,0.2485,0.45,0,0.45C-0.2485,0.45,-0.45,0.2485,-0.45,0Z", "symbolSize": 210, "symbolStrokeColor": "black", "symbolStrokeWidth": 1.3, "labelFontSize": 10, "labelOffset": 8,
             "encode": {"symbols": {"update": {"shape": {"signal": "indexOf(datum.value, 'HIV') >= 0 ? 'M-1,0L-0.62,0M0.6,0L0.8,0M-0.45,0C-0.45,-0.2485,-0.2485,-0.45,0,-0.45C0.2485,-0.45,0.45,-0.2485,0.45,0C0.45,0.2485,0.2485,0.45,0,0.45C-0.2485,0.45,-0.45,0.2485,-0.45,0Z' : 'M-1,0L-0.45,0M0.45,0L1,0M-0.45,0C-0.45,-0.2485,-0.2485,-0.45,0,-0.45C0.2485,-0.45,0.45,-0.2485,0.45,0C0.45,0.2485,0.2485,0.45,0,0.45C-0.2485,0.45,-0.45,0.2485,-0.45,0Z'"}}}}}}}},
        {"data": {"values": [{"panel": "D"}]}, "mark": {"type": "text", "font": "Liberation Sans", "fontSize": 16, "fontWeight": "bold", "baseline": "middle", "align": "center", "color": "black"},
         "encoding": {
           "x": {"datum": 9.6, "type": "quantitative", "axis": {"title": "Signal Duration (msec)", "values": [100,200,300,400,500,600,700,800,900,1000], "labelExpr": "datum.value == 100 || datum.value == 500 || datum.value == 1000 ? datum.label : ''", "format": "d", "offset": 14, "labelPadding": 1, "titlePadding": 6, "labelOverlap": false, "labelFlush": false, "labelBound": false}},
           "y": {"datum": 22.4, "type": "quantitative", "axis": {"title": "Number of Hits or Misses (X ±SEM)", "values": [0,5,10,15,20], "offset": 12, "labelPadding": 1, "titlePadding": 2, "labelOverlap": false, "labelFlush": false, "labelBound": false}},
           "text": {"field": "panel", "type": "nominal"}}}
      ]
    }
  ]
}
